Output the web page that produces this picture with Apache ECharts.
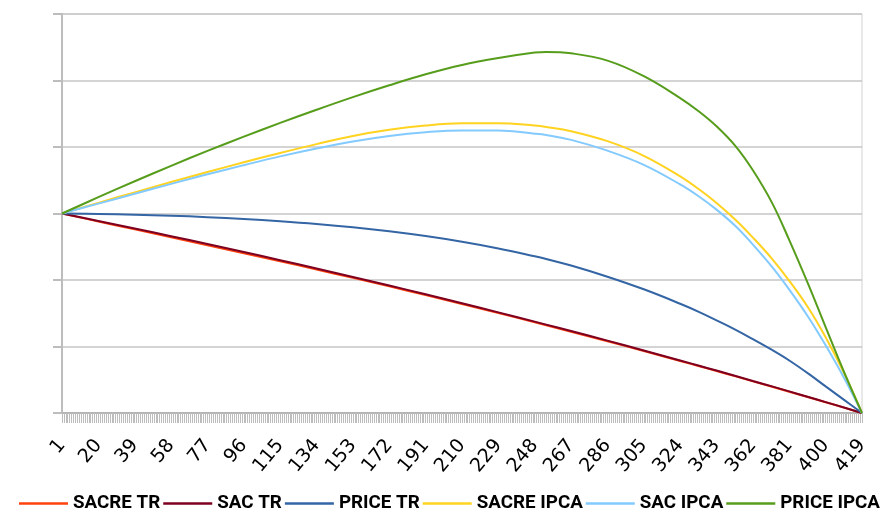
<!DOCTYPE html>
<html>
<head>
<meta charset="utf-8">
<title>Saldo devedor</title>
<script src="https://cdn.jsdelivr.net/npm/echarts@6/dist/echarts.min.js"></script>
<style>
  html, body { margin: 0; padding: 0; background: #fff; }
  #chart { width: 885px; height: 513px; }
</style>
</head>
<body>
<div id="chart"></div>
<script>
// Installment periods shown on the x axis (1 .. 419)
const periods = [];
for (let p = 1; p <= 419; p++) periods.push(String(p));

// Installments at which the balances are sampled (denser where the curves bend)
const sampleMonths = [1, 20, 39, 58, 77, 96, 115, 134, 153, 172, 191, 210, 229, 248, 254, 267, 286, 305, 324, 334, 343, 353, 362, 372, 381, 391, 400, 410, 419];

// Outstanding balance of each amortization system (relative units)
const sacreTr   = [3.000, 2.880, 2.762, 2.643, 2.523, 2.403, 2.281, 2.158, 2.032, 1.904, 1.773, 1.639, 1.503, 1.364, 1.319, 1.223, 1.079, 0.932, 0.782, 0.703, 0.631, 0.551, 0.476, 0.395, 0.320, 0.237, 0.161, 0.077, 0];
const sacTr     = [3.000, 2.888, 2.775, 2.659, 2.541, 2.421, 2.298, 2.174, 2.046, 1.917, 1.785, 1.650, 1.513, 1.374, 1.329, 1.232, 1.088, 0.940, 0.790, 0.710, 0.638, 0.557, 0.482, 0.400, 0.325, 0.241, 0.164, 0.079, 0];
const priceTr   = [3.000, 2.993, 2.982, 2.967, 2.945, 2.918, 2.884, 2.843, 2.793, 2.732, 2.660, 2.575, 2.475, 2.357, 2.316, 2.218, 2.050, 1.860, 1.643, 1.518, 1.393, 1.250, 1.110, 0.948, 0.790, 0.592, 0.400, 0.190, 0];
const sacreIpca = [3.000, 3.160, 3.318, 3.473, 3.624, 3.770, 3.910, 4.043, 4.167, 4.259, 4.323, 4.356, 4.358, 4.323, 4.302, 4.238, 4.088, 3.868, 3.558, 3.360, 3.158, 2.903, 2.638, 2.318, 1.988, 1.578, 1.138, 0.578, 0];
const sacIpca   = [3.000, 3.149, 3.297, 3.445, 3.589, 3.727, 3.859, 3.977, 4.082, 4.165, 4.222, 4.250, 4.248, 4.200, 4.179, 4.107, 3.945, 3.732, 3.437, 3.252, 3.058, 2.808, 2.533, 2.198, 1.856, 1.441, 1.018, 0.508, 0];
const priceIpca = [3.000, 3.245, 3.485, 3.717, 3.941, 4.156, 4.362, 4.560, 4.750, 4.928, 5.093, 5.233, 5.338, 5.420, 5.430, 5.409, 5.299, 5.065, 4.736, 4.530, 4.311, 4.010, 3.650, 3.160, 2.600, 1.930, 1.290, 0.590, 0];

const seriesNames  = ['SACRE TR', 'SAC TR', 'PRICE TR', 'SACRE IPCA', 'SAC IPCA', 'PRICE IPCA'];
const seriesValues = [sacreTr, sacTr, priceTr, sacreIpca, sacIpca, priceIpca];
const seriesColors = ['#ff420e', '#7e0021', '#3465a4', '#ffd320', '#83caff', '#579d1c'];

const chart = echarts.init(document.getElementById('chart'), null, { renderer: 'canvas' });

chart.setOption({
  animation: false,
  backgroundColor: '#ffffff',
  grid: {
    left: 62, right: 23, top: 14, bottom: 100,
    show: true, borderColor: '#d2d2d2', borderWidth: 1
  },
  legend: {
    top: 489, left: 14, width: 871,
    icon: 'rect',
    itemWidth: 49, itemHeight: 2.5, itemGap: 3,
    textStyle: {
      fontFamily: 'Roboto, "Liberation Sans", sans-serif',
      fontWeight: 'bold', fontSize: 18.8, color: '#000'
    },
    data: seriesNames
  },
  xAxis: {
    type: 'category',
    boundaryGap: false,
    data: periods,
    axisLine: { lineStyle: { color: '#b4b4b4', width: 2 } },
    axisTick: { show: true, interval: 0, length: 10, lineStyle: { color: '#bdbdbd', width: 1 } },
    axisLabel: {
      interval: 18, rotate: 50, margin: 29,
      fontFamily: '"DejaVu Sans", sans-serif', fontSize: 19, color: '#000'
    },
    splitLine: { show: false }
  },
  yAxis: {
    type: 'value',
    min: 0, max: 6, interval: 1,
    axisLine: { show: true, lineStyle: { color: '#bdbdbd', width: 2 } },
    axisTick: { show: true, length: 9, lineStyle: { color: '#bdbdbd', width: 2 } },
    axisLabel: { show: false },
    splitLine: { lineStyle: { color: '#c6c6c6', width: 1.5 } }
  },
  series: seriesNames.map((name, s) => ({
    name: name,
    type: 'line',
    smooth: 0.4,
    symbol: 'none',
    lineStyle: { width: 2, color: seriesColors[s] },
    itemStyle: { color: seriesColors[s] },
    data: sampleMonths.map((m, i) => [m - 1, seriesValues[s][i]])
  }))
});
</script>
</body>
</html>
